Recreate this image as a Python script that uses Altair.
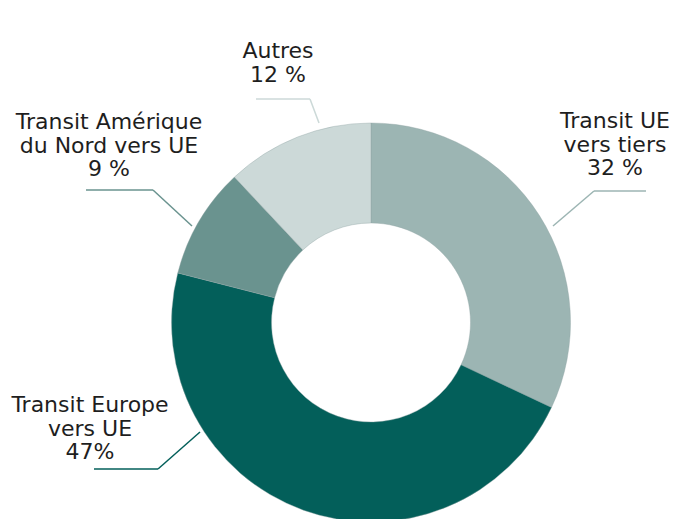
import altair as alt
import pandas as pd

# --- data ---
categories = ["Transit UE vers tiers", "Transit Europe vers UE",
              "Transit Amérique du Nord vers UE", "Autres"]
shares = [32, 47, 9, 12]
label_texts = ["Transit UE\nvers tiers\n32 %", "Transit Europe\nvers UE\n47%",
               "Transit Amérique\ndu Nord vers UE\n9 %", "Autres\n12 %"]

# --- style / layout ---
colors = ["#9cb5b3", "#035f5a", "#6a938f", "#ccd9d8"]
W, H = 665, 511
CX, CY = 363, 314.5
R_OUT, R_IN = 199.5, 99.5
FONT = "DejaVu Sans"

# label anchors (chart px) and leader polylines (chart px) -- annotations
label_pos = [(607, 120), (82, 404), (101, 121), (270, 50)]
leaders = [
    [(638, 183), (586, 183), (545, 218)],
    [(86, 461), (150, 461), (192, 424)],
    [(78, 182), (145, 182), (184, 218)],
    [(248, 91), (302, 91), (311, 115)],
]

df = pd.DataFrame({"category": categories, "share": shares,
                   "idx": list(range(len(categories)))})

lab = pd.DataFrame({"category": categories, "text": label_texts,
                    "x": [p[0] for p in label_pos], "y": [p[1] for p in label_pos]})

segs = []
for cat, pts in zip(categories, leaders):
    for (x1, y1), (x2, y2) in zip(pts[:-1], pts[1:]):
        segs.append({"category": cat, "x": x1, "y": y1, "x2": x2, "y2": y2})
seg_df = pd.DataFrame(segs)

cscale = alt.Scale(domain=categories, range=colors)

donut = alt.Chart(df).mark_arc(radius=R_OUT, radius2=R_IN, stroke="#8fa5a3",
                               strokeWidth=0.4).encode(
    theta=alt.Theta("share:Q", stack=True),
    order=alt.Order("idx:Q"),
    color=alt.Color("category:N", scale=cscale, legend=None),
    x=alt.value(CX), y=alt.value(CY),
)

lines = alt.Chart(seg_df).mark_rule(strokeWidth=1.5).encode(
    x=alt.X("x:Q", scale=None), y=alt.Y("y:Q", scale=None),
    x2="x2:Q", y2="y2:Q",
    color=alt.Color("category:N", scale=cscale, legend=None),
)

texts = alt.Chart(lab).mark_text(font=FONT, fontSize=22, lineBreak="\n",
                                 lineHeight=23.5, align="center",
                                 baseline="alphabetic", color="#1e1e1e").encode(
    x=alt.X("x:Q", scale=None), y=alt.Y("y:Q", scale=None), text="text:N",
)

chart = alt.layer(donut, lines, texts).properties(
    width=W, height=H, autosize=alt.AutoSizeParams(type="none"), padding=0,
).configure_view(stroke=None)

chart.save("out.html", embed_options={"renderer": "svg", "actions": False})
